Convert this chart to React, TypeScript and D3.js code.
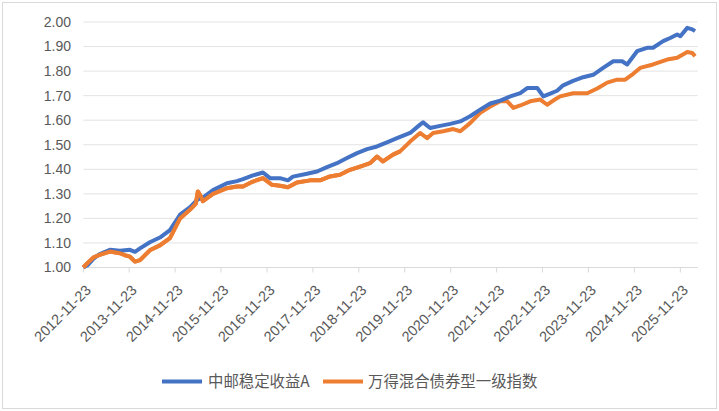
import React from "react";
import * as d3 from "d3";

const xTickLabels = [
  "2012-11-23", "2013-11-23", "2014-11-23", "2015-11-23", "2016-11-23", "2017-11-23", "2018-11-23",
  "2019-11-23", "2020-11-23", "2021-11-23", "2022-11-23", "2023-11-23", "2024-11-23", "2025-11-23",
];
const yTicks = [1.0, 1.1, 1.2, 1.3, 1.4, 1.5, 1.6, 1.7, 1.8, 1.9, 2.0];
const seriesNames = ["中邮稳定收益A", "万得混合债券型一级指数"];

const blueDates = [
  "2012-11-23", "2012-12-30", "2013-02-10", "2013-04-03", "2013-06-22", "2013-09-10", "2013-11-29", "2014-01-08",
  "2014-02-17", "2014-05-06", "2014-07-25", "2014-10-13", "2015-01-01", "2015-03-20", "2015-05-23", "2015-07-02",
  "2015-09-20", "2016-01-09", "2016-03-28", "2016-05-16", "2016-08-03", "2016-10-22", "2016-12-17", "2017-03-06",
  "2017-05-08", "2017-06-17", "2017-10-07", "2017-12-26", "2018-03-15", "2018-06-02", "2018-08-21", "2018-11-09",
  "2019-01-28", "2019-04-17", "2019-07-05", "2019-09-23", "2020-01-05", "2020-03-24", "2020-04-17", "2020-06-12",
  "2020-08-31", "2020-11-19", "2021-02-07", "2021-04-26", "2021-07-15", "2021-10-03", "2021-12-22", "2022-03-12",
  "2022-05-30", "2022-07-24", "2022-10-12", "2022-11-29", "2023-01-23", "2023-03-19", "2023-05-06", "2023-07-24",
  "2023-10-12", "2023-12-31", "2024-03-19", "2024-06-07", "2024-08-17", "2024-09-26", "2024-12-14", "2025-03-03",
  "2025-04-20", "2025-07-09", "2025-09-03", "2025-10-29", "2025-11-23", "2026-01-17", "2026-02-26", "2026-03-20",
];
const blueValues = [
  1.0, 1.01, 1.035, 1.055, 1.072, 1.068, 1.072, 1.064,
  1.078, 1.103, 1.122, 1.152, 1.215, 1.245, 1.278, 1.285,
  1.315, 1.343, 1.352, 1.36, 1.375, 1.387, 1.364, 1.364,
  1.355, 1.37, 1.382, 1.391, 1.409, 1.425, 1.446, 1.466,
  1.482, 1.493, 1.51, 1.527, 1.548, 1.582, 1.591, 1.568,
  1.577, 1.585, 1.595, 1.616, 1.643, 1.668, 1.68, 1.697,
  1.71, 1.731, 1.731, 1.697, 1.708, 1.72, 1.742, 1.76,
  1.775, 1.785, 1.813, 1.84, 1.84, 1.827, 1.881, 1.895,
  1.895, 1.922, 1.935, 1.949, 1.942, 1.976, 1.97, 1.963,
];

const orangeDates = [
  "2012-11-23", "2012-12-30", "2013-02-10", "2013-04-03", "2013-06-22", "2013-09-10", "2013-10-20", "2013-11-29",
  "2014-01-08", "2014-02-17", "2014-05-06", "2014-07-25", "2014-10-13", "2015-01-01", "2015-03-20", "2015-05-07",
  "2015-05-23", "2015-06-16", "2015-07-02", "2015-09-20", "2016-01-09", "2016-03-28", "2016-05-16", "2016-08-03",
  "2016-10-22", "2017-01-02", "2017-03-06", "2017-05-08", "2017-07-19", "2017-10-31", "2018-01-19", "2018-04-08",
  "2018-06-26", "2018-09-14", "2018-12-03", "2019-02-21", "2019-04-17", "2019-06-03", "2019-08-22", "2019-10-17",
  "2020-01-05", "2020-03-24", "2020-05-19", "2020-07-06", "2020-09-24", "2020-12-13", "2021-02-07", "2021-04-26",
  "2021-07-15", "2021-10-03", "2021-12-22", "2022-02-16", "2022-04-05", "2022-05-30", "2022-08-17", "2022-11-05",
  "2022-12-30", "2023-02-16", "2023-04-12", "2023-07-24", "2023-11-13", "2024-02-01", "2024-04-20", "2024-07-08",
  "2024-09-10", "2024-11-13", "2025-01-07", "2025-04-20", "2025-08-10", "2025-10-29", "2026-01-17", "2026-02-26",
  "2026-03-20",
];
const orangeValues = [
  1.0, 1.02, 1.04, 1.052, 1.065, 1.058, 1.05, 1.044,
  1.024, 1.03, 1.07, 1.09, 1.12, 1.2, 1.235, 1.26,
  1.31, 1.29, 1.27, 1.3, 1.323, 1.33, 1.33, 1.35,
  1.364, 1.337, 1.333, 1.327, 1.346, 1.355, 1.355, 1.371,
  1.378, 1.398, 1.411, 1.425, 1.452, 1.432, 1.46, 1.473,
  1.513, 1.548, 1.527, 1.548, 1.555, 1.564, 1.555, 1.588,
  1.63, 1.656, 1.677, 1.677, 1.65, 1.66, 1.677, 1.684,
  1.663, 1.68, 1.697, 1.71, 1.71, 1.729, 1.753, 1.765,
  1.765, 1.789, 1.813, 1.827, 1.847, 1.854, 1.878, 1.874,
  1.86,
];

const colors = ["#4472C4", "#ED7D31"];

export default function App() {
  const W = 719, H = 411;
  const left = 83.3, right = 697.7, top = 22, bottom = 267.5;
  const parse = d3.timeParse("%Y-%m-%d");
  const x = d3.scaleTime()
    .domain([parse("2012-11-23") as Date, parse("2026-04-10") as Date])
    .range([left, right]);
  const y = d3.scaleLinear().domain([1.0, 2.0]).range([bottom, top]);
  const line = d3.line<[Date, number]>().x((d) => x(d[0])).y((d) => y(d[1]));
  const blue: [Date, number][] = blueDates.map((d, i) => [parse(d) as Date, blueValues[i]]);
  const orange: [Date, number][] = orangeDates.map((d, i) => [parse(d) as Date, orangeValues[i]]);
  const font = "'Liberation Sans', Arial, sans-serif";
  const cjk = "'Noto Sans CJK SC', 'Noto Sans', sans-serif";

  return (
    <svg width={W} height={H} style={{ position: "absolute", left: 0, top: 0, background: "#fff" }}>
      <rect x={2.5} y={2.5} width={714} height={406} fill="#fff" stroke="#d9d9d9" strokeWidth={1} />
      {yTicks.map((t) => (
        <g key={t}>
          {t > 1.0 && (
            <line x1={left} x2={right} y1={y(t)} y2={y(t)} stroke="#e3e3e3" strokeWidth={1} />
          )}
          <text x={71} y={y(t)} dy="0.35em" textAnchor="end" fontFamily={font} fontSize={14} fill="#595959">
            {t.toFixed(2)}
          </text>
        </g>
      ))}
      <line x1={left} x2={right} y1={bottom} y2={bottom} stroke="#d9d9d9" strokeWidth={1} />
      {xTickLabels.map((lbl) => {
        const xx = x(parse(lbl) as Date);
        return (
          <g key={lbl}>
            <line x1={xx} x2={xx} y1={bottom} y2={bottom + 5} stroke="#d9d9d9" strokeWidth={1} />
            <text
              transform={`translate(${xx + 5},${bottom + 20}) rotate(-45)`}
              textAnchor="end"
              dy="0.35em"
              fontFamily={font}
              fontSize={14.5}
              fill="#595959"
            >
              {lbl}
            </text>
          </g>
        );
      })}
      <path d={line(orange) || ""} fill="none" stroke={colors[1]} strokeWidth={4} strokeLinejoin="round" />
      <path d={line(blue) || ""} fill="none" stroke={colors[0]} strokeWidth={4} strokeLinejoin="round" />
      <path d={line(orange.slice(0, 40)) || ""} fill="none" stroke={colors[1]} strokeWidth={4} strokeLinejoin="round" />
      <g>
        <line x1={162} x2={202} y1={381.5} y2={381.5} stroke={colors[0]} strokeWidth={4} />
        <text x={208} y={381.5} dy="0.35em" fontFamily={cjk} fontSize={15.4} fill="#595959">{seriesNames[0]}</text>
        <line x1={323} x2={363} y1={381.5} y2={381.5} stroke={colors[1]} strokeWidth={4} />
        <text x={368} y={381.5} dy="0.35em" fontFamily={cjk} fontSize={15.4} fill="#595959">{seriesNames[1]}</text>
      </g>
    </svg>
  );
}
